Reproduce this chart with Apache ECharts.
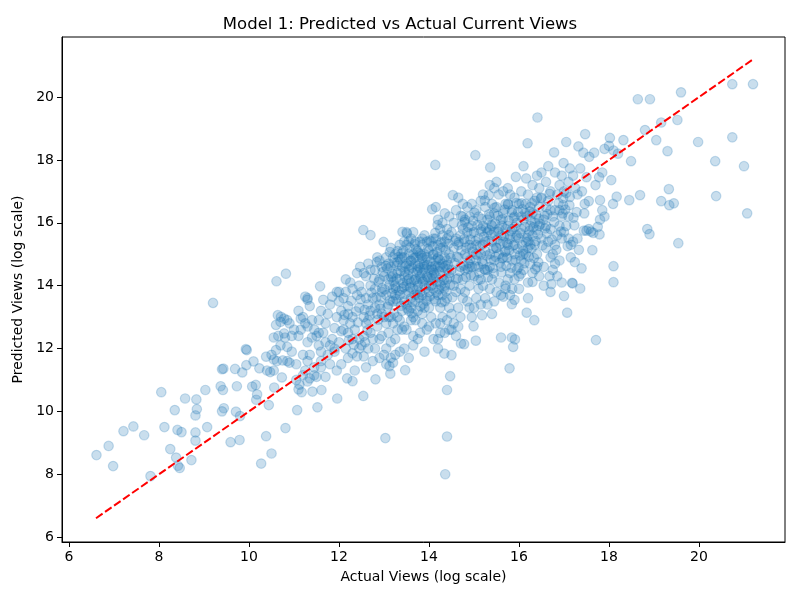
<!DOCTYPE html>
<html>
<head>
<meta charset="utf-8">
<script src="https://cdn.jsdelivr.net/npm/echarts@6/dist/echarts.min.js"></script>
<style>
	*{ margin:0px; padding:0px; }
	body{ background:#fff; }
	#main{ width:800px; height:600px; }
</style>
</head>
<body>
<div id="main"></div>
<script type="text/javascript">
// [actual, predicted] pairs
var lowBand = [
	[6.61,8.61],[6.88,8.90],[6.98,8.26],[7.21,9.37],[7.43,9.52],[7.67,9.24],[7.81,7.94],[8.05,10.61],[8.12,9.50],[8.25,8.80],
	[8.35,10.04],[8.38,8.53],[8.41,9.41],[8.50,9.34],[8.42,8.27],[8.46,8.20],[8.58,10.41],[8.72,8.45],[8.81,9.33],[8.81,9.07],
	[8.81,9.87],[8.84,10.07],[8.83,10.38],[9.07,9.50],[9.03,10.68],[9.37,10.80],[9.42,10.68],[9.40,10.00],[9.44,10.10],[9.59,9.02],
	[9.79,9.09],[9.71,9.99],[9.80,9.85],[9.73,10.80],[9.43,11.36],[9.40,11.34],[9.69,11.35],[9.85,11.24],[9.93,11.98],[9.95,11.95],
	[9.94,11.47],[10.10,11.59],[10.07,10.79],[10.15,10.84],[10.18,10.54],[10.16,10.37],[10.27,8.34],[10.38,9.21],[10.50,8.66],[10.44,10.20],
	[9.20,13.45],[10.23,11.37],[10.38,11.74],[10.40,11.30],[10.47,11.25]
];
var midLowBand = [
	[10.81,9.47],[11.07,10.04],[10.56,10.76],[10.73,11.08],[11.10,10.70],[11.12,10.85],[11.17,10.61],[10.50,11.80],[10.55,11.65],[10.62,11.60],
	[10.75,11.62],[10.85,11.60],[10.90,11.55],[10.55,11.30],[10.60,11.95],[10.65,12.40],[10.70,12.10],[10.80,12.35],[10.85,12.05],[10.95,12.40],
	[10.55,12.35],[10.60,12.75],[10.64,13.06],[10.71,13.01],[10.61,14.14],[10.82,14.38],[10.78,12.48],[10.85,12.90],[10.90,12.80],[10.95,11.90],
	[11.00,12.60],[11.05,11.50],[11.10,12.40],[11.15,12.95],[11.10,13.20],[11.20,13.00],[11.25,13.65],[11.30,13.55],[11.35,13.35],[11.15,12.60],
	[11.25,12.80],[11.30,12.70],[11.40,12.90],[11.45,12.60],[11.30,12.20],[11.40,12.35],[11.50,12.40],[11.55,12.50],[11.20,11.80],[11.30,11.60],
	[11.35,11.80],[11.45,11.40],[11.25,11.30],[11.35,11.05],[11.45,11.15],[11.20,11.15],[11.30,10.95],[11.41,10.63],[11.52,10.13],[11.61,10.68],
	[11.50,11.10],[11.05,11.00],[11.30,13.60],[10.70,12.85],[10.78,12.95],[11.55,12.90],[11.60,11.40],[11.58,13.98],[11.70,12.20],[11.80,11.50],
	[11.90,11.90],[11.95,13.80],[11.60,13.20],[11.65,12.50],[11.70,12.80],[11.75,13.10],[11.80,13.40],[11.85,12.30],[11.90,12.65],[11.95,13.00],
	[11.60,11.90],[11.75,11.80],[11.70,11.10],[11.55,12.10],[11.85,13.65],[11.65,13.55],[11.90,12.00],[11.95,11.30],[11.60,11.60],[11.80,12.10],
	[11.96,10.41]
];
var coreLowBand = [
	[12.05,12.55],[12.18,11.05],[12.20,12.50],[12.30,10.96],[12.30,11.85],[12.00,13.50],[12.05,13.20],[12.10,12.90],[12.15,13.80],[12.20,13.35],
	[12.25,14.10],[12.30,13.00],[12.35,12.60],[12.40,13.70],[12.45,12.30],[12.10,12.60],[12.20,11.70],[12.30,13.90],[12.40,14.40],[12.45,13.30],
	[12.00,12.20],[12.15,12.00],[12.47,14.60],[12.45,12.00],[12.25,12.80],[12.05,11.50],[12.40,11.75],[12.35,11.30],[12.00,13.80],[12.15,14.20],
	[12.50,13.80],[12.30,12.30],[12.20,13.10],[12.45,14.00],[12.10,13.60],[12.54,10.49],[12.50,12.10],[12.54,15.77],[12.70,15.61],[12.81,11.02],
	[12.90,12.30],[12.55,11.75],[12.60,12.80],[12.65,13.40],[12.70,14.00],[12.75,13.60],[12.80,14.50],[12.85,13.10],[12.90,14.20],[12.95,13.80],
	[12.60,14.30],[12.70,12.50],[12.80,12.00],[12.55,13.00],[12.65,14.70],[12.84,14.75],[12.85,12.70],[12.95,12.40],[12.60,13.60],[12.70,13.20],
	[12.80,13.90],[12.90,13.40],[12.95,14.60],[12.55,14.40],[12.65,12.00],[12.75,11.60],[12.85,14.90],[12.90,11.70],[12.60,11.40],[12.70,14.50],
	[12.80,13.30],[12.95,13.10],[12.55,12.40],[12.99,15.39],[12.65,12.90],[12.75,12.30],[12.90,14.80],[13.03,9.15],[13.14,11.20],[13.12,11.44],
	[13.20,11.55],[13.30,14.75],[13.47,11.31],[13.41,15.71],[13.51,15.66],[13.05,12.00],[13.10,12.50],[13.15,13.00],[13.20,13.50],[13.25,14.00],
	[13.30,14.40],[13.35,13.70],[13.40,13.20],[13.45,14.90],[13.05,13.70],[13.10,14.20],[13.15,14.60],[13.20,12.80],[13.25,12.30],[13.30,13.00],
	[13.35,14.20],[13.40,14.60],[13.45,13.50],[13.00,14.30],[13.10,13.40],[13.20,14.90],[13.30,15.10],[13.40,12.60],[13.45,12.00],[13.05,14.90],
	[13.15,12.20],[13.25,13.70],[13.35,15.30],[13.45,14.30],[13.00,13.00],[13.10,14.70],[13.20,13.90],[13.30,12.60],[13.40,13.90],[13.45,15.40],
	[13.05,12.80],[13.15,15.20],[13.25,11.80],[13.35,12.90],[13.20,14.30],[13.30,13.50],[13.40,14.90],[13.10,13.00],[13.25,15.00],[13.35,11.90],
	[13.45,12.70],[13.15,11.70],[13.05,11.50],[13.00,11.80],
	[12.12,13.07],[12.27,13.52],[12.42,12.83],[12.57,13.23],[12.72,13.78],[12.87,12.92],[12.33,12.12],[12.63,12.58],[12.78,14.22],[12.48,13.57],
	[12.22,12.27],[12.38,13.18],[12.68,13.05],[12.93,13.62],[12.58,12.20]
];
var coreMidBand = [
	[13.50,14.00],[13.55,14.50],[13.60,13.60],[13.65,15.00],[13.70,14.20],[13.75,13.20],[13.80,14.70],[13.85,15.30],[13.90,14.00],[13.95,13.60],
	[13.50,12.60],[13.55,13.20],[13.60,15.50],[13.65,14.40],[13.70,12.90],[13.75,15.10],[13.80,13.80],[13.85,14.40],[13.90,15.00],[13.95,15.40],
	[13.50,15.30],[13.55,13.80],[13.60,14.80],[13.65,12.40],[13.70,15.40],[13.75,14.00],[13.80,12.50],[13.85,13.10],[13.90,14.60],[13.95,14.30],
	[13.50,13.40],[13.55,15.00],[13.60,12.90],[13.65,13.90],[13.70,14.70],[13.75,14.50],[13.80,15.40],[13.85,13.70],[13.90,13.30],[13.95,14.90],
	[13.55,11.70],[13.65,12.10],[13.90,11.90],[13.60,14.10],[13.70,13.50],[13.80,14.30],[13.90,15.60],[13.50,14.70],[13.65,15.70],[13.75,12.30],
	[13.85,12.80],[13.95,12.60],[13.60,13.30],[13.70,14.90],[13.80,15.00],[13.55,14.20],[13.75,13.70],[13.90,14.20],[13.65,13.00],[13.85,15.50],
	[13.50,15.70],[14.20,12.00],[14.34,11.84],[14.47,11.12],[14.40,10.68],[14.40,9.20],[14.36,8.00],[14.25,12.50],[14.14,17.84],[14.07,16.43],
	[14.00,14.50],[14.05,14.00],[14.10,15.00],[14.15,14.30],[14.20,13.70],[14.25,15.20],[14.30,14.70],[14.35,14.00],[14.40,15.50],[14.45,14.40],
	[14.00,13.30],[14.05,15.40],[14.10,13.90],[14.15,15.50],[14.20,14.60],[14.25,13.30],[14.30,15.60],[14.35,14.90],[14.40,13.60],[14.45,15.00],
	[14.00,15.10],[14.05,13.00],[14.10,14.50],[14.15,12.80],[14.20,15.30],[14.25,14.10],[14.30,13.00],[14.35,15.40],[14.40,14.20],[14.45,16.20],
	[14.00,12.70],[14.10,14.20],[14.15,13.50],[14.20,14.90],[14.25,12.80],[14.30,14.30],[14.35,13.50],[14.40,12.90],[14.45,12.60],[14.00,14.00],
	[14.10,15.50],[14.20,12.30],[14.30,16.00],[14.40,14.80],[14.15,14.80],[14.25,14.60],[14.35,12.50],[14.45,13.30],[14.05,14.60],[14.20,16.10],
	[14.30,13.70],[14.40,15.80],[14.19,15.93],[14.15,16.50],[14.35,16.30],[14.00,13.80],[14.25,15.80],[14.10,12.30],[14.53,16.88],[14.50,11.79],
	[14.71,12.16],[14.78,12.14],[14.99,12.71],[14.50,14.50],[14.55,15.20],[14.60,13.80],[14.65,14.90],[14.70,15.60],[14.75,14.20],[14.80,15.00],
	[14.85,13.50],[14.90,15.30],[14.95,14.60],[14.50,13.10],[14.55,16.00],[14.60,15.50],[14.65,13.30],[14.70,14.60],[14.75,15.80],[14.80,13.80],
	[14.85,15.70],[14.90,14.00],[14.95,15.90],[14.50,15.70],[14.55,12.80],[14.60,16.40],[14.65,12.70],[14.70,13.00],[14.75,16.20],[14.80,14.50],
	[14.85,16.50],[14.90,13.30],[14.95,13.00],[14.50,12.60],[14.60,14.20],[14.80,16.10],[14.90,16.20],[14.55,14.00],[14.65,15.30],[14.75,13.60],
	[14.85,14.90],[14.95,15.20],[14.60,12.40],[14.70,13.90],[14.80,15.40],[14.90,14.60],[14.75,16.60],[14.95,16.60],[14.65,16.80]
];
// densest part of the cloud, below and above x = 14.6
var denseCoreA = [
	[12.83,13.62],[12.88,14.12],[12.92,13.27],[12.97,14.43],[13.02,13.88],[13.07,14.55],[13.08,13.33],[13.12,14.02],[13.13,15.07],[13.17,13.76],
	[13.18,14.38],[13.22,13.12],[13.23,14.72],[13.27,13.58],[13.28,14.23],[13.32,14.91],[13.33,13.83],[13.37,14.47],[13.38,13.36],[13.42,14.08],
	[13.43,15.12],[13.47,13.73],[13.48,14.62],[13.52,13.27],[13.53,14.33],[13.57,15.21],[13.58,13.94],[13.62,14.57],[13.63,13.48],[13.67,14.18],
	[13.68,15.32],[13.72,13.87],[13.73,14.43],[13.77,15.04],[13.78,13.62],[13.82,14.22],[13.83,14.96],[13.87,13.42],[13.88,14.52],[13.92,14.81],
	[13.93,13.91],[13.97,14.27],[13.98,15.18],[14.02,13.66],[14.03,14.77],[14.07,14.33],[14.08,15.26],[14.12,13.57],[14.13,14.63],[14.17,14.12],
	[14.18,15.07],[14.22,13.88],[14.23,14.46],[14.27,15.38],[14.28,13.47],[14.32,14.58],[14.33,14.18],[14.37,15.12],[14.38,13.82],[14.42,14.67],
	[14.43,15.33],[14.47,14.03],[14.48,14.88],[14.52,13.63],[14.57,14.72],[14.58,15.42],[13.13,13.53],[13.28,14.63],[13.44,13.96],[13.59,14.79],
	[13.74,14.11],[13.89,14.68],[14.04,14.21],[14.19,14.86],[14.34,13.91],[13.36,14.83],[13.51,14.16],[13.66,14.88],[13.81,13.34],[13.96,14.66],
	[14.11,14.41],[14.26,14.01],[14.41,14.52],[13.04,14.63],[13.21,14.13],[13.39,15.02],[13.56,14.64],[13.71,15.16],[13.86,14.13],[14.01,15.43],
	[14.16,13.78],[14.31,15.22],[14.46,14.27],[13.62,13.12],[13.79,14.56],[13.94,13.52],[14.09,14.98],[14.24,14.82],[12.96,13.92],[13.16,14.27],
	[13.46,14.45],[13.76,14.62],[14.06,14.52],[14.36,14.63],[13.26,13.92],[13.55,15.41],[13.85,14.88],[14.14,15.68],[14.44,15.61],[13.69,13.71]
];
var denseCoreB = [
	[14.62,14.92],[14.66,15.38],[14.68,14.47],[14.72,15.13],[14.73,15.92],[14.77,14.64],[14.78,15.48],[14.82,14.28],[14.83,15.21],[14.87,15.86],
	[14.88,14.71],[14.92,15.47],[14.93,14.33],[14.97,15.08],[14.98,16.07],[15.02,14.62],[15.03,15.42],[15.07,14.97],[15.08,15.93],[15.12,14.41],
	[15.13,15.27],[15.17,16.12],[15.18,14.78],[15.22,15.56],[15.23,14.52],[15.27,15.83],[15.28,14.96],[15.32,15.43],[15.33,16.27],[15.37,14.83],
	[15.38,15.62],[15.42,14.56],[15.43,15.18],[15.47,15.98],[15.48,14.92],[15.52,15.47],[15.53,16.22],[15.57,14.73],[15.58,15.33],[15.62,15.91],
	[15.63,14.87],[15.67,15.58],[15.68,16.42],[15.72,14.63],[15.73,15.36],[15.77,16.07],[15.78,15.12],[15.82,15.73],[15.83,14.57],[15.87,15.28],
	[15.88,16.16],[15.92,14.82],[15.93,15.53],[15.97,15.17],[15.98,16.34],[16.02,14.96],[16.03,15.67],[16.07,15.29],[16.08,16.43],[16.12,14.71],
	[16.13,15.87],[16.17,15.52],[16.18,16.21],[16.22,14.92],[16.23,15.74],[16.27,16.07],[16.28,15.18],[16.32,15.86],[16.33,14.88],[16.37,15.42],
	[16.38,16.26],[16.42,15.63],[16.43,14.74],[16.47,15.96],[16.52,15.28],[16.57,16.22],[16.62,15.66],[14.71,16.22],[14.86,14.53],[15.01,16.32],
	[15.16,15.72],[15.31,14.27],[15.46,16.48],[15.61,14.42],[15.76,16.58],[15.91,15.87],[16.06,16.62],[16.21,15.41],[16.36,14.52],[14.64,14.23],
	[14.79,16.03],[14.94,15.66],[15.09,14.18],[15.24,16.71],[15.39,15.94],[15.54,15.71],[15.69,15.07],[15.84,16.33],[15.99,14.58],[16.14,16.31],
	[16.29,16.62],[16.44,16.13],[14.91,14.81],[15.19,15.31],[15.49,15.21],[15.79,15.48],[16.09,15.11],[16.39,15.78],[15.04,15.01],[15.34,15.77],
	[15.64,16.12],[15.94,16.63],[16.24,16.36],[15.44,14.39],[15.74,14.89],[16.04,14.38]
];
var coreHighBand = [
	[15.03,18.15],[15.36,17.76],[15.04,12.25],[15.18,13.06],[15.05,14.80],[15.10,15.50],[15.15,14.20],[15.20,15.90],[15.25,15.10],[15.30,14.50],
	[15.35,16.20],[15.40,15.40],[15.45,14.80],[15.00,15.70],[15.05,13.60],[15.10,16.20],[15.15,15.00],[15.20,14.00],[15.25,16.50],[15.30,15.70],
	[15.35,13.90],[15.40,16.60],[15.45,15.70],[15.00,13.30],[15.05,16.40],[15.10,13.90],[15.15,16.70],[15.20,14.70],[15.25,13.60],[15.30,16.10],
	[15.35,15.00],[15.40,14.20],[15.45,16.30],[15.05,15.30],[15.15,13.40],[15.25,14.50],[15.35,14.60],[15.45,13.50],[15.10,14.60],[15.20,16.90],
	[15.30,13.40],[15.40,15.90],[15.00,14.30],[15.15,15.80],[15.33,16.88],[15.45,17.10],[15.25,15.40],[15.35,17.20],[15.40,13.10],[15.60,12.35],
	[15.84,12.35],[15.91,12.29],[15.87,12.05],[15.79,11.37],[15.84,13.41],[15.65,13.65],[15.90,13.55],[15.50,15.20],[15.55,15.80],[15.60,14.60],
	[15.65,16.30],[15.70,15.10],[15.75,15.90],[15.80,14.40],[15.85,16.40],[15.90,15.30],[15.95,16.00],[15.50,16.50],[15.55,14.10],[15.60,16.10],
	[15.65,14.90],[15.70,16.60],[15.75,14.20],[15.80,15.60],[15.85,14.80],[15.90,16.80],[15.95,14.50],[15.50,13.80],[15.55,16.90],[15.60,13.70],
	[15.65,15.40],[15.70,13.90],[15.75,15.30],[15.80,16.90],[15.85,13.90],[15.90,14.20],[15.95,15.60],[15.55,15.00],[15.65,17.00],[15.75,16.60],
	[15.85,15.80],[15.93,17.46],[15.60,15.60],[15.70,14.00],[15.80,13.70],[15.90,15.00],[15.50,17.30],[15.75,17.10],[15.70,15.80],[15.90,16.20],
	[16.41,19.35],[16.19,18.53],[16.17,13.14],[16.34,12.90],[16.20,13.60],[16.30,14.12],[16.00,15.50],[16.05,16.20],[16.10,15.00],[16.15,16.60],
	[16.20,15.60],[16.25,14.70],[16.30,16.30],[16.35,15.30],[16.40,16.80],[16.45,15.90],[16.00,14.30],[16.05,17.00],[16.10,14.50],[16.15,15.40],
	[16.20,16.90],[16.25,15.90],[16.30,14.40],[16.35,16.00],[16.40,15.00],[16.45,16.50],[16.00,16.60],[16.10,16.10],[16.20,14.10],[16.30,17.20],
	[16.40,14.60],[16.05,14.80],[16.16,17.41],[16.25,16.50],[16.45,17.10],[16.00,13.90],[16.30,15.60],[16.40,17.50],[16.10,17.80],[16.20,15.20],
	[16.35,16.70],[16.45,14.30],[16.05,15.80],[16.49,16.78],[16.15,15.00],[16.25,15.30]
];
var upperBand = [
	[16.78,18.24],[16.55,14.00],[16.70,13.80],[16.72,14.05],[16.68,14.30],[16.50,15.50],[16.55,16.10],[16.60,15.20],[16.65,16.70],[16.70,15.80],
	[16.75,15.00],[16.80,16.40],[16.85,15.60],[16.90,17.20],[16.95,16.20],[16.50,16.80],[16.55,14.60],[16.60,17.30],[16.65,15.40],[16.70,17.00],
	[16.75,14.50],[16.80,15.30],[16.85,16.90],[16.90,14.80],[16.95,15.50],[16.50,17.60],[16.60,16.50],[16.70,14.90],[16.80,17.60],[16.90,15.90],
	[16.65,17.80],[16.75,16.20],[16.85,14.30],[16.95,17.50],[16.60,15.90],[16.70,16.40],[16.80,14.70],[16.90,16.40],[16.95,14.10],[17.00,13.67],
	[17.07,13.14],[17.19,14.07],[17.05,18.57],[17.32,18.43],[17.43,18.23],[17.13,17.73],[16.99,17.90],[17.36,17.73],[17.47,18.82],[17.00,17.00],
	[17.10,17.30],[17.20,17.50],[17.05,16.95],[17.21,16.16],[17.10,16.20],[16.97,16.30],[17.12,16.56],[16.98,16.56],[17.00,15.70],[17.10,15.50],
	[17.15,15.30],[17.20,15.40],[17.30,15.50],[17.05,15.90],[17.45,16.30],[17.55,16.69],[17.46,16.60],[17.44,15.75],[17.50,15.75],[17.24,14.75],
	[17.39,14.55],[17.18,14.09],[17.36,13.91],[17.30,16.90],[17.25,17.10],[17.40,17.00],[17.15,14.90],[17.71,12.27],[17.63,15.13],[17.60,15.72],
	[17.65,15.68],[17.55,15.80],[17.75,15.87],[17.79,15.63],[17.80,16.10],[17.85,16.40],[17.90,16.20],[17.80,16.72],[17.78,17.45],[17.56,18.10],
	[17.67,18.23],[18.10,14.11],[18.10,14.62],[18.05,17.36],[18.02,18.70],[18.32,18.63],[17.90,18.35],[18.00,18.45],[18.10,18.30],[18.20,18.20],
	[18.09,16.60],[18.17,16.83],[18.45,16.72],[18.69,16.88],[18.49,17.96],[17.70,17.20],[17.85,17.60],[17.50,17.45],
	[16.58,15.82],[16.63,16.28],[16.73,15.47],[16.78,16.02],[16.83,15.14],[16.88,16.63],[16.93,15.72],[17.03,16.42],[17.08,15.26],[17.13,16.82],
	[17.23,15.92],[17.28,16.34],[17.33,15.14],[16.68,16.92],[16.98,16.78]
];
var topBand = [
	[18.64,19.93],[18.91,19.93],[19.60,20.15],[20.74,20.41],[21.20,20.41],[19.16,19.19],[19.52,19.27],[18.80,18.95],[19.05,18.63],[19.30,18.28],
	[19.98,18.57],[20.74,18.72],[20.36,17.96],[21.00,17.80],[19.33,17.07],[20.38,16.85],[21.07,16.30],[19.16,16.69],[19.34,16.56],[19.44,16.62],
	[18.85,15.80],[18.90,15.64],[19.54,15.35]
];
// perfect-prediction reference line, from the smallest to the largest actual value
var lineRange = [6.6, 21.2];
var tickValues = [6, 8, 10, 12, 14, 16, 18, 20];
var axisMin = 5.844, axisMax = 21.911;

var points = [].concat(lowBand, midLowBand, coreLowBand, coreMidBand, denseCoreA, denseCoreB, coreHighBand, upperBand, topBand);

var font = 'DejaVu Sans';
var myChart = echarts.init(document.getElementById('main'));

function axisCfg(name, gap) {
	return {
		type: 'value',
		min: axisMin,
		max: axisMax,
		name: name,
		nameLocation: 'middle',
		nameGap: gap,
		nameTextStyle: { color: '#000', fontSize: 14, fontFamily: font },
		axisLine: { show: true, onZero: false, lineStyle: { color: '#000', width: 1 } },
		axisTick: { show: true, length: 5, lineStyle: { color: '#000' }, customValues: tickValues },
		axisLabel: { color: '#000', fontSize: 14, fontFamily: font, margin: 8, customValues: tickValues },
		splitLine: { show: false }
	};
}

myChart.setOption({
	animation: false,
	title: {
		text: 'Model 1: Predicted vs Actual Current Views',
		left: 'center',
		top: 11,
		textStyle: { color: '#000', fontSize: 16.5, fontWeight: 'normal', fontFamily: font }
	},
	grid: { left: 62, right: 15, top: 37, bottom: 58, show: true, borderColor: '#000', borderWidth: 1 },
	xAxis: axisCfg('Actual Views (log scale)', 28),
	yAxis: axisCfg('Predicted Views (log scale)', 34),
	series: [
		{
			type: 'scatter',
			data: points,
			symbolSize: 9.5,
			itemStyle: { color: 'rgba(31,119,180,0.3)', borderColor: 'rgba(31,119,180,0.3)', borderWidth: 1.2 }
		},
		{
			type: 'line',
			data: [[lineRange[0], lineRange[0]], [lineRange[1], lineRange[1]]],
			symbol: 'none',
			lineStyle: { color: '#ff0000', width: 2, type: [8, 3] },
			z: 3
		}
	]
});
</script>
</body>
</html>
